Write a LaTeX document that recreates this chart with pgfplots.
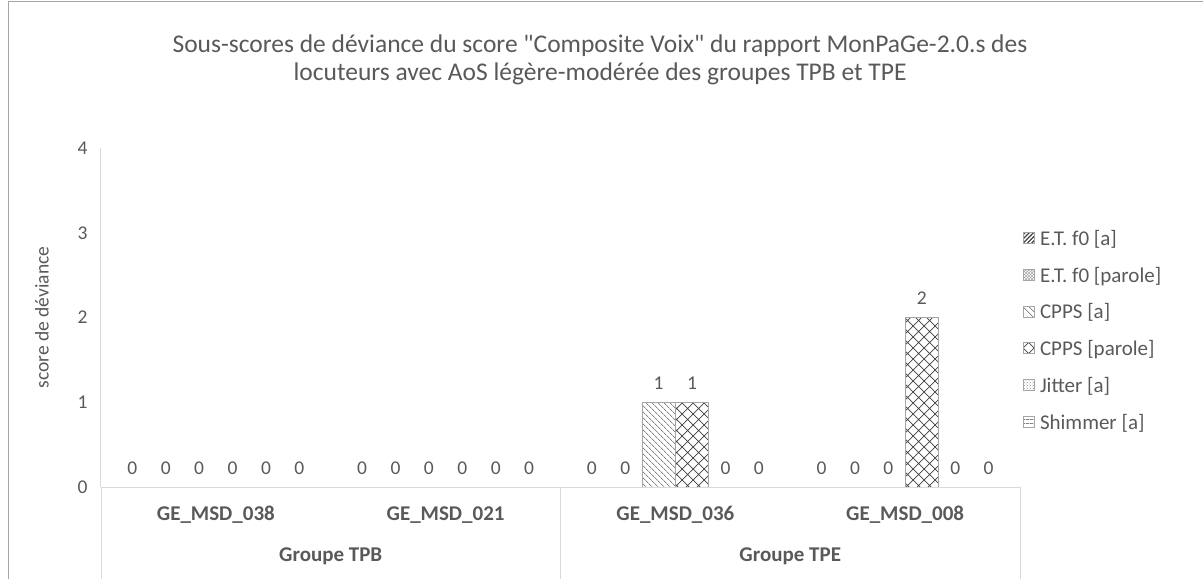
\documentclass[border=0pt]{standalone}
\usepackage{fontspec}
\setmainfont{Carlito}[Ligatures=TeXOff]
\usepackage{pgfplots}
\pgfplotsset{compat=1.18}
\usetikzlibrary{patterns,patterns.meta}
\definecolor{txt}{HTML}{595959}
\definecolor{axl}{HTML}{D9D9D9}
\definecolor{barl}{HTML}{A6A6A6}
\definecolor{pat}{HTML}{404040}
\definecolor{frm}{HTML}{A6A6A6}

\pgfdeclarepatternformonly{xcross}{\pgfqpoint{-1pt}{-1pt}}{\pgfqpoint{12pt}{12pt}}{\pgfqpoint{11pt}{11pt}}{%
  \pgfsetlinewidth{0.7pt}%
  \pgfpathmoveto{\pgfqpoint{0pt}{0pt}}\pgfpathlineto{\pgfqpoint{11pt}{11pt}}%
  \pgfpathmoveto{\pgfqpoint{0pt}{11pt}}\pgfpathlineto{\pgfqpoint{11pt}{0pt}}%
  \pgfusepath{stroke}}

\pgfplotstableread{
x etfa etfp cppsa cppsp jit shim
0 0 0 0 0 0 0
1 0 0 0 0 0 0
2 0 0 1 1 0 0
3 0 0 0 2 0 0
}\datatab

\begin{document}
\begin{tikzpicture}[x=1pt,y=1pt]
\useasboundingbox (0,0) rectangle (1203,579);
\draw[frm, line width=1pt] (8.5,0) -- (8.5,577.5) -- (1203,577.5);
\node[text=txt, font=\fontsize{25.5}{28}\selectfont, align=center] at (600,519.5)
 {Sous-scores de déviance du score "Composite Voix" du rapport MonPaGe-2.0.s des\\locuteurs avec AoS légère-modérée des groupes TPB et TPE};
\begin{axis}[
  /pgf/number format/assume math mode=true,
  at={(101pt,92pt)}, anchor=south west,
  scale only axis, width=919pt, height=339pt,
  xmin=-0.5, xmax=3.5, ymin=0, ymax=4,
  ybar=0pt, bar width=33.4pt,
  axis x line*=bottom, axis y line*=left,
  axis line style={draw=axl, line width=1pt, -},
  axis on top,
  clip=false,
  xtick=\empty,
  ytick={0,1,2,3,4},
  ytick style={draw=none},
  yticklabel style={font=\fontsize{19.5}{24}\selectfont, text=txt, xshift=-10pt},
  ylabel={score de déviance},
  every axis y label/.style={at={(axis description cs:0,0.5)}, xshift=-59pt, rotate=90, anchor=center, font=\fontsize{19.5}{24}\selectfont, text=txt},
  nodes near coords,
  every node near coord/.append style={font=\fontsize{19.5}{24}\selectfont, text=txt, yshift=9pt},
  every axis plot post/.append style={legend image code/.code={\draw[#1,draw=barl,line width=0.8pt] (0pt,-5pt) rectangle (11pt,6pt);}},
  legend style={at={(1.0,0.4617)}, anchor=west, draw=none, fill=none, font=\fontsize{21}{25}\selectfont, text=txt, row sep=16pt, inner xsep=3pt,
    /tikz/every odd column/.append style={column sep=3pt}},
  legend cell align=left,
]
\addplot[draw=barl, line width=0.8pt, pattern={Lines[angle=45,distance=3pt,line width=1.3pt]}, pattern color=pat] table[x=x,y=etfa] {\datatab};
\addlegendentry{E.T. f0 [a]}
\addplot[draw=barl, line width=0.8pt, pattern=crosshatch, pattern color=gray!70] table[x=x,y=etfp] {\datatab};
\addlegendentry{E.T. f0 [parole]}
\addplot[draw=barl, line width=0.8pt, pattern={Lines[angle=-45,distance=4pt,line width=0.6pt]}, pattern color=pat] table[x=x,y=cppsa] {\datatab};
\addlegendentry{CPPS [a]}
\addplot[draw=barl, line width=0.8pt, pattern=xcross, pattern color=pat] table[x=x,y=cppsp] {\datatab};
\addlegendentry{CPPS [parole]}
\addplot[draw=barl, line width=0.8pt, pattern=crosshatch dots, pattern color=gray!80] table[x=x,y=jit] {\datatab};
\addlegendentry{Jitter [a]}
\addplot[draw=barl, line width=0.8pt, pattern={Lines[angle=0,distance=4pt,line width=0.6pt]}, pattern color=pat] table[x=x,y=shim] {\datatab};
\addlegendentry{Shimmer [a]}
\node[font=\bfseries\fontsize{21}{25}\selectfont, text=txt] at (axis cs:0,0) [yshift=-28pt] {GE\_MSD\_038};
\node[font=\bfseries\fontsize{21}{25}\selectfont, text=txt] at (axis cs:1,0) [yshift=-28pt] {GE\_MSD\_021};
\node[font=\bfseries\fontsize{21}{25}\selectfont, text=txt] at (axis cs:2,0) [yshift=-28pt] {GE\_MSD\_036};
\node[font=\bfseries\fontsize{21}{25}\selectfont, text=txt] at (axis cs:3,0) [yshift=-28pt] {GE\_MSD\_008};
\node[font=\bfseries\fontsize{21}{25}\selectfont, text=txt] at (axis cs:0.5,0) [yshift=-69pt] {Groupe TPB};
\node[font=\bfseries\fontsize{21}{25}\selectfont, text=txt] at (axis cs:2.5,0) [yshift=-69pt] {Groupe TPE};
\end{axis}
\draw[axl, line width=1pt] (101,92) -- (101,0);
\draw[axl, line width=1pt] (560.5,92) -- (560.5,0);
\draw[axl, line width=1pt] (1020,92) -- (1020,0);
\end{tikzpicture}
\end{document}
